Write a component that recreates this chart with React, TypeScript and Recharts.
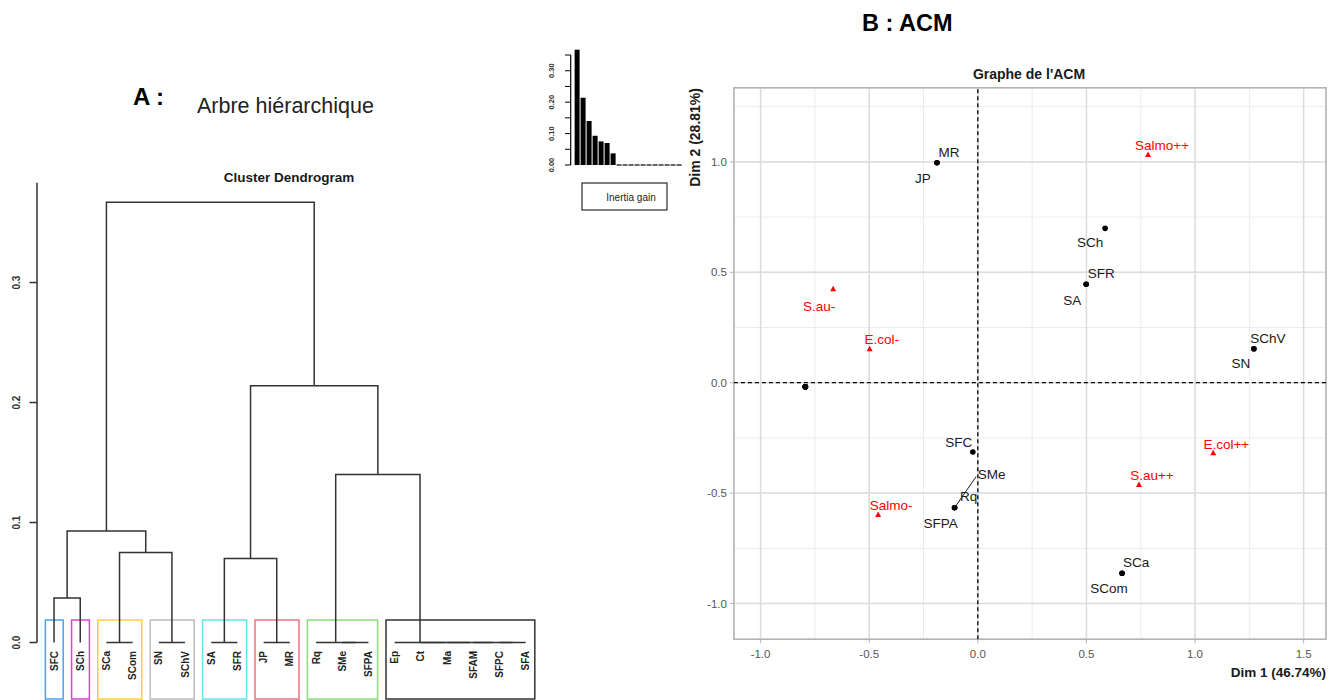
import React from "react";
import {
  Bar,
  BarChart,
  CartesianGrid,
  ReferenceArea,
  ReferenceLine,
  Scatter,
  ScatterChart,
  XAxis,
  YAxis,
} from "recharts";

const FONT = "'Liberation Sans', Arial, Helvetica, sans-serif";

// ---------- A : hierarchical tree ----------
const leafNames = [
  "SFC", "SCh", "SCa", "SCom", "SN", "SChV", "SA", "SFR", "JP", "MR",
  "Rq", "SMe", "SFPA", "Ep", "Ct", "Ma", "SFAM", "SFPC", "SFA",
];

// [left, right, height] ; "mN" = N-th merge below
const merges: [string, string, number][] = [
  ["SCa", "SCom", 0],
  ["SN", "SChV", 0],
  ["SA", "SFR", 0],
  ["JP", "MR", 0],
  ["SMe", "SFPA", 0],
  ["Rq", "m5", 0],
  ["SFPC", "SFA", 0],
  ["SFAM", "m7", 0],
  ["Ma", "m8", 0],
  ["Ct", "m9", 0],
  ["Ep", "m10", 0],
  ["SFC", "SCh", 0.037],
  ["m3", "m4", 0.07],
  ["m1", "m2", 0.075],
  ["m12", "m14", 0.093],
  ["m6", "m11", 0.14],
  ["m13", "m16", 0.214],
  ["m15", "m17", 0.367],
];

const clusters = [
  ["SFC"],
  ["SCh"],
  ["SCa", "SCom"],
  ["SN", "SChV"],
  ["SA", "SFR"],
  ["JP", "MR"],
  ["Rq", "SMe", "SFPA"],
  ["Ep", "Ct", "Ma", "SFAM", "SFPC", "SFA"],
];
const clusterColors = ["#4aa3f0", "#e040d8", "#ffcc44", "#bdbdbd", "#5ee8ee", "#ee7483", "#8ddc7c", "#333333"];

const dendroTicks = [0, 0.1, 0.2, 0.3];
const gainTicks = [0, 0.05, 0.1, 0.15, 0.2, 0.25, 0.3, 0.35];

// ---------- B : ACM ----------
const activeNames = [
  "MR", "JP", "SCh", "SFR", "SA", "SChV", "SN", "SFC", "SMe", "Rq", "SFPA",
  "SCa", "SCom", "Ep", "Ct", "Ma", "SFAM", "SFPC", "SFA",
];
const activeDim1 = [
  -0.188, -0.188, 0.586, 0.499, 0.499, 1.271, 1.271, -0.023, -0.107, -0.107, -0.107,
  0.664, 0.664, -0.794, -0.794, -0.794, -0.794, -0.794, -0.794,
];
const activeDim2 = [
  0.996, 0.996, 0.699, 0.446, 0.446, 0.154, 0.154, -0.314, -0.566, -0.566, -0.566,
  -0.863, -0.863, -0.018, -0.018, -0.018, -0.018, -0.018, -0.018,
];

const suppNames = ["Salmo++", "S.au-", "E.col-", "E.col++", "S.au++", "Salmo-"];
const suppDim1 = [0.784, -0.666, -0.498, 1.084, 0.742, -0.459];
const suppDim2 = [1.031, 0.423, 0.151, -0.32, -0.463, -0.599];

const acmTicksX = [-1, -0.5, 0, 0.5, 1, 1.5];
const acmTicksY = [-1, -0.5, 0, 0.5, 1];
const acmMinorX = [-1, -0.75, -0.5, -0.25, 0, 0.25, 0.5, 0.75, 1, 1.25, 1.5];
const acmMinorY = [-1, -0.75, -0.5, -0.25, 0, 0.25, 0.5, 0.75, 1, 1.25];
const acmXDomain = [-1.123, 1.603];
const acmYDomain = [-1.162, 1.336];

// label placement (px from the point), like ggrepel put them
const labelNudges: Record<string, [number, number]> = {
  MR: [12, -11], JP: [-14, 15], SCh: [-15, 14], SFR: [15, -11], SA: [-14, 16],
  SChV: [14, -10], SN: [-13, 15], SFC: [-14, -10], SMe: [37, -33], Rq: [14, -11],
  SFPA: [-14, 16], SCa: [14, -11], SCom: [-13, 15],
  "Salmo++": [14, -10], "S.au-": [-14, 17], "E.col-": [12, -10],
  "E.col++": [13, -9], "S.au++": [13, -10], "Salmo-": [13, -10],
};
const labelSegments: Record<string, [number, number]> = { SMe: [21.5, -31] };

// ---------- derived ----------
const nodePos: Record<string, { x: number; h: number }> = {};
leafNames.forEach((n, i) => (nodePos[n] = { x: i + 1, h: 0 }));
const segments = merges.map(([a, b, h], i) => {
  const l = nodePos[a];
  const r = nodePos[b];
  nodePos[`m${i + 1}`] = { x: (l.x + r.x) / 2, h };
  return [
    { x: l.x, y: l.h },
    { x: l.x, y: h },
    { x: r.x, y: h },
    { x: r.x, y: r.h },
  ];
});
const leafTicks = leafNames.map((_, i) => i + 1);
const inertiaGain = merges.map((m) => m[2]).sort((a, b) => b - a);
const gainData = inertiaGain.map((g, i) => ({ rank: i + 1, gain: g }));
const activeData = activeNames.map((name, i) => ({ name, x: activeDim1[i], y: activeDim2[i] }));
const suppData = suppNames.map((name, i) => ({ name, x: suppDim1[i], y: suppDim2[i] }));

function LeafTick({ x, y, payload }: any) {
  return (
    <text
      x={x}
      y={y}
      transform={`rotate(-90, ${x}, ${y})`}
      textAnchor="end"
      dy="0.35em"
      fontSize={10}
      fontWeight="bold"
      fontFamily={FONT}
      fill="#222"
    >
      {leafNames[payload.value - 1]}
    </text>
  );
}

function DendroYTick({ x, y, payload }: any) {
  const cx = x - 10.8;
  return (
    <text
      x={cx}
      y={y}
      transform={`rotate(-90, ${cx}, ${y})`}
      textAnchor="middle"
      dy="0.35em"
      fontSize={10}
      fontWeight="bold"
      fontFamily={FONT}
      fill="#333"
    >
      {payload.value.toFixed(1)}
    </text>
  );
}

function GainTick({ x, y, payload }: any) {
  const v = payload.value;
  if (Math.round(v * 100) % 10 !== 0) return <g />;
  const cx = x - 11.3;
  return (
    <text
      x={cx}
      y={y}
      transform={`rotate(-90, ${cx}, ${y})`}
      textAnchor="middle"
      dy="0.35em"
      fontSize={7.5}
      fontWeight="bold"
      fontFamily={FONT}
      fill="#333"
    >
      {v.toFixed(2)}
    </text>
  );
}

function GainBar({ x, y, width, height }: any) {
  if (!height) return <line x1={x} x2={x + width} y1={y} y2={y} stroke="#000" strokeWidth={1.2} />;
  return <rect x={x} y={y} width={width} height={height} fill="#000" />;
}

function PointLabel({ cx, cy, name, color }: { cx: number; cy: number; name: string; color: string }) {
  const nudge = labelNudges[name];
  if (!nudge) return null;
  const seg = labelSegments[name];
  return (
    <>
      {seg && <line x1={cx} y1={cy} x2={cx + seg[0]} y2={cy + seg[1]} stroke="#222" strokeWidth={1} />}
      <text
        x={cx + nudge[0]}
        y={cy + nudge[1]}
        textAnchor="middle"
        dy="0.35em"
        fontSize={13.5}
        fontFamily={FONT}
        fill={color}
      >
        {name}
      </text>
    </>
  );
}

function ActivePoint({ cx, cy, payload }: any) {
  return (
    <g>
      <circle cx={cx} cy={cy} r={2.8} fill="#000" />
      <PointLabel cx={cx} cy={cy} name={payload.name} color="#1a1a1a" />
    </g>
  );
}

function SuppPoint({ cx, cy, payload }: any) {
  return (
    <g>
      <polygon points={`${cx},${cy - 3.5} ${cx - 3},${cy + 2} ${cx + 3},${cy + 2}`} fill="#ff0000" />
      <PointLabel cx={cx} cy={cy} name={payload.name} color="#ff0000" />
    </g>
  );
}

const hidden = () => <g />;

export default function App() {
  return (
    <div
      style={{
        position: "absolute",
        left: 0,
        top: 0,
        width: 1343,
        height: 700,
        background: "#fff",
        fontFamily: FONT,
        overflow: "hidden",
      }}
    >
      {/* A : dendrogram */}
      <div style={{ position: "absolute", left: 0, top: 0 }}>
        <ScatterChart width={560} height={700} margin={{ top: 182.7, right: 14.7, bottom: 0.5, left: 0 }}>
          <XAxis
            type="number"
            dataKey="x"
            domain={[0.35, 19.75]}
            ticks={leafTicks}
            interval={0}
            tick={<LeafTick />}
            tickSize={0}
            tickMargin={8.5}
            axisLine={false}
            tickLine={false}
            height={57}
          />
          <YAxis
            type="number"
            dataKey="y"
            domain={[0, 0.3832]}
            ticks={dendroTicks}
            interval={0}
            width={37}
            tickSize={7.5}
            tickMargin={2}
            tick={<DendroYTick />}
            axisLine={{ stroke: "#333", strokeWidth: 1.5 }}
            tickLine={{ stroke: "#333", strokeWidth: 1.5 }}
          />
          {clusters.map((c, i) => (
            <ReferenceArea
              key={`box-${i}`}
              x1={leafNames.indexOf(c[0]) + 1 - 0.33}
              x2={leafNames.indexOf(c[c.length - 1]) + 1 + 0.35}
              y1={-0.047}
              y2={0.0188}
              ifOverflow="visible"
              fill="none"
              fillOpacity={0}
              stroke={clusterColors[i]}
              strokeWidth={1.5}
            />
          ))}
          {segments.map((pts, i) => (
            <Scatter
              key={`seg-${i}`}
              data={pts}
              line={{ stroke: "#333", strokeWidth: 1.5 }}
              shape={hidden}
              legendType="none"
              isAnimationActive={false}
            />
          ))}
        </ScatterChart>
      </div>

      {/* inertia gain inset */}
      <div style={{ position: "absolute", left: 530, top: 0 }}>
        <BarChart width={170} height={220} data={gainData} margin={{ top: 45.6, right: 15.6, bottom: 55, left: 0 }}>
          <XAxis type="number" dataKey="rank" domain={[-0.15, 18.8]} hide />
          <YAxis
            type="number"
            domain={[0, 0.38]}
            ticks={gainTicks}
            interval={0}
            width={40.7}
            tickSize={5.7}
            tickMargin={2}
            tick={<GainTick />}
            axisLine={false}
            tickLine={{ stroke: "#000", strokeWidth: 1 }}
          />
          <ReferenceLine
            segment={[
              { x: -0.15, y: 0 },
              { x: -0.15, y: 0.35 },
            ]}
            stroke="#000"
            strokeWidth={1.2}
          />
          <Bar dataKey="gain" barSize={5} fill="#000" shape={<GainBar />} isAnimationActive={false} />
        </BarChart>
      </div>

      {/* B : ACM */}
      <div style={{ position: "absolute", left: 680, top: 0 }}>
        <ScatterChart width={660} height={700} margin={{ top: 87.7, right: 14, bottom: 30.7, left: 13.9 }}>
          <XAxis xAxisId="minor" type="number" dataKey="x" domain={acmXDomain} ticks={acmMinorX} hide allowDataOverflow />
          <YAxis yAxisId="minor" type="number" dataKey="y" domain={acmYDomain} ticks={acmMinorY} hide allowDataOverflow />
          <XAxis
            type="number"
            dataKey="x"
            domain={acmXDomain}
            ticks={acmTicksX}
            interval={0}
            tickFormatter={(v: number) => v.toFixed(1)}
            tick={{ fill: "#555", fontSize: 11.5, fontFamily: FONT }}
            tickSize={4}
            tickMargin={6.5}
            axisLine={false}
            tickLine={{ stroke: "#b3b3b3" }}
            height={30}
          />
          <YAxis
            type="number"
            dataKey="y"
            domain={acmYDomain}
            ticks={acmTicksY}
            interval={0}
            tickFormatter={(v: number) => v.toFixed(1)}
            tick={{ fill: "#555", fontSize: 11.5, fontFamily: FONT }}
            tickSize={4}
            tickMargin={3}
            axisLine={false}
            tickLine={{ stroke: "#b3b3b3" }}
            width={40}
          />
          <CartesianGrid xAxisId="minor" yAxisId="minor" stroke="#ececec" strokeWidth={1} />
          <CartesianGrid stroke="#dcdcdc" strokeWidth={1.5} />
          <ReferenceArea
            x1={acmXDomain[0]}
            x2={acmXDomain[1]}
            y1={acmYDomain[0]}
            y2={acmYDomain[1]}
            fill="none"
            fillOpacity={0}
            stroke="#b3b3b3"
            strokeWidth={1.4}
          />
          <ReferenceLine x={0} stroke="#000" strokeWidth={1.3} strokeDasharray="4 3" />
          <ReferenceLine y={0} stroke="#000" strokeWidth={1.3} strokeDasharray="4 3" />
          <Scatter data={activeData} shape={ActivePoint} isAnimationActive={false} />
          <Scatter data={suppData} shape={SuppPoint} isAnimationActive={false} />
        </ScatterChart>
      </div>

      {/* titles */}
      <svg
        width={1343}
        height={700}
        style={{ position: "absolute", left: 0, top: 0, pointerEvents: "none" }}
        fontFamily={FONT}
      >
        <text x={133} y={105} fontSize={24} fontWeight="bold" fill="#000">A :</text>
        <text x={197} y={113} fontSize={21.5} fill="#222">Arbre hiérarchique</text>
        <text x={862} y={31} fontSize={23.5} fontWeight="bold" fill="#000">B : ACM</text>
        <text x={289} y={182} textAnchor="middle" fontSize={13.5} fontWeight="bold" fill="#1a1a1a">
          Cluster Dendrogram
        </text>
        <text x={1029} y={79} textAnchor="middle" fontSize={14} fontWeight="bold" fill="#1a1a1a">
          Graphe de l'ACM
        </text>
        <text x={1326} y={677} textAnchor="end" fontSize={13.5} fontWeight="bold" fill="#1a1a1a">
          Dim 1 (46.74%)
        </text>
        <text
          x={694.7}
          y={88}
          transform="rotate(-90 694.7 88)"
          textAnchor="end"
          dy="0.35em"
          fontSize={14}
          fontWeight="bold"
          fill="#1a1a1a"
        >
          Dim 2 (28.81%)
        </text>
        <rect x={582} y={183} width={85} height={27} fill="none" stroke="#000" strokeWidth={1} />
        <text x={631} y={197} textAnchor="middle" dy="0.35em" fontSize={10} fill="#222">
          Inertia gain
        </text>
      </svg>
    </div>
  );
}
